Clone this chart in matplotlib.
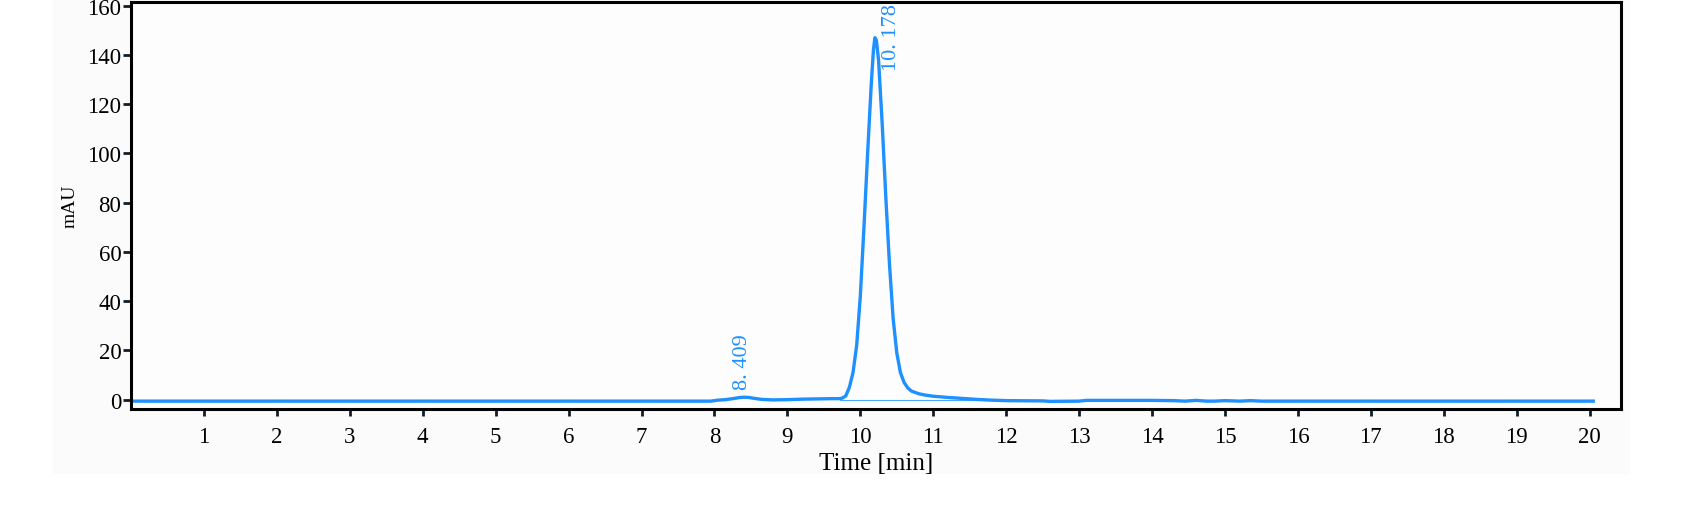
import matplotlib
matplotlib.use("Agg")
import matplotlib.pyplot as plt
from matplotlib.patches import Rectangle

# chromatogram trace (time in min, signal in mAU)
time_min = [0.0, 1.0, 2.0, 3.0, 4.0, 5.0, 6.0, 7.0, 7.95,
            8.05, 8.15, 8.25, 8.33, 8.40, 8.47, 8.55, 8.65, 8.80, 9.00,
            9.20, 9.40, 9.60, 9.70, 9.75, 9.80, 9.85, 9.90, 9.95,
            10.00, 10.05, 10.10, 10.15, 10.18, 10.20, 10.22, 10.25, 10.30,
            10.35, 10.40, 10.45, 10.50, 10.55, 10.60, 10.65, 10.70, 10.80,
            10.90, 11.00, 11.20, 11.40, 11.60, 11.80, 12.00, 12.50, 12.60,
            13.00, 13.10, 14.00, 14.30, 14.45, 14.60, 14.75, 14.85, 15.00,
            15.20, 15.35, 15.50, 16.00, 17.0, 18.0, 19.0, 20.05]
signal_mau = [-0.6, -0.6, -0.6, -0.6, -0.6, -0.6, -0.6, -0.6, -0.6,
              -0.2, 0.0, 0.4, 0.8, 1.0, 0.9, 0.5, 0.1, -0.1, 0.0,
              0.2, 0.3, 0.4, 0.4, 0.6, 1.5, 5.0, 11.0, 22.0,
              42.0, 70.0, 100.0, 128.0, 142.0, 147.0, 146.0, 138.0, 112.0,
              82.0, 55.0, 33.0, 19.0, 11.0, 7.0, 4.8, 3.5, 2.4,
              1.8, 1.4, 0.9, 0.5, 0.1, -0.2, -0.4, -0.5, -0.7,
              -0.6, -0.3, -0.3, -0.4, -0.6, -0.3, -0.6, -0.6, -0.4,
              -0.6, -0.4, -0.6, -0.6, -0.6, -0.6, -0.6, -0.6]

# integration baseline under the main peak
base_t = [9.72, 11.9]
base_y = [0.0, 0.0]

# peak labels
peak_labels = ["8. 409", "10. 178"]
label_x = [8.39, 10.43]
label_y = [4.3, 134.0]

x_ticks = list(range(1, 21))
y_ticks = list(range(0, 161, 20))

blue = "#1E90FF"
plt.rcParams["font.family"] = ["Liberation Serif", "DejaVu Serif"]

fig = plt.figure(figsize=(16.97, 5.06), dpi=100)
fig.patch.set_facecolor("white")
# light grey panel behind the plot
fig.patches.append(Rectangle((0.0312, 0.0613), 0.9293, 0.9387,
                             transform=fig.transFigure, facecolor="#fbfbfb",
                             edgecolor="none", zorder=-10))

ax = fig.add_axes([0.0772, 0.1897, 0.878, 0.8044])
ax.set_facecolor("#fdfdfd")

ax.plot(base_t, base_y, color=blue, linewidth=0.8, alpha=0.8)
ax.plot(time_min, signal_mau, color=blue, linewidth=2.4, solid_joinstyle="round")

for txt, lx, ly in zip(peak_labels, label_x, label_y):
    ax.text(lx, ly, txt, rotation=90, ha="center", va="bottom",
            color=blue, fontsize=16, clip_on=False)

ax.set_xlim(0, 20.43)
ax.set_ylim(-3.8, 161.5)
ax.set_xticks(x_ticks)
ax.set_yticks(y_ticks)
ax.tick_params(axis="both", labelsize=16.5, color="#0f1e2e", width=2,
               direction="out")
ax.tick_params(axis="x", length=5, pad=7)
ax.tick_params(axis="y", length=6, pad=1)

for sp in ax.spines.values():
    sp.set_linewidth(2.2)
    sp.set_color("black")

ax.set_xlabel("Time [min]", fontsize=18, labelpad=4)
ax.set_ylabel("mAU", fontsize=14, labelpad=6)

fig.savefig("out.png", dpi=100)
